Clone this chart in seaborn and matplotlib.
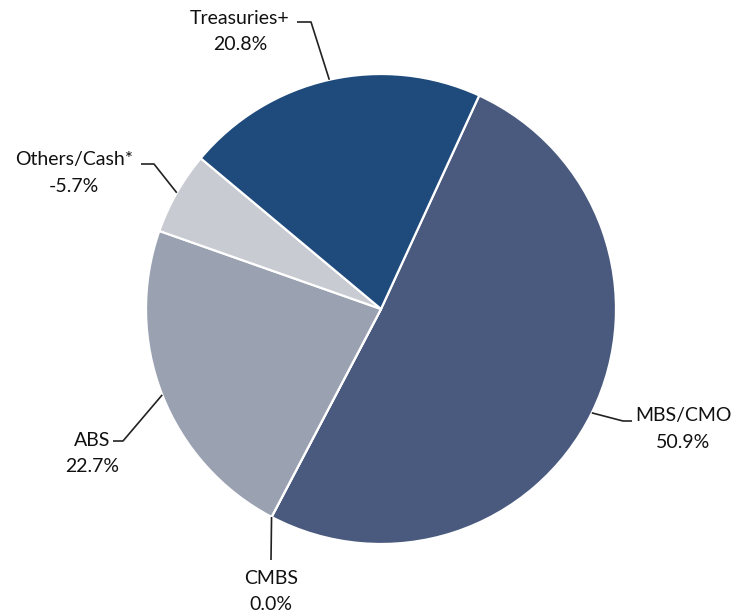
import numpy as np
import matplotlib
matplotlib.use("Agg")
import matplotlib.pyplot as plt
import seaborn as sns

# Sector allocation (percent of portfolio)
sectors = ["MBS/CMO", "CMBS", "ABS", "Others/Cash*", "Treasuries+"]
weights = [50.9, 0.0, 22.7, -5.7, 20.8]
colors = ["#4a5a7e", "#3b4f77", "#9aa1b1", "#c8cbd2", "#1f4a7c"]

# Label placement: text centre (px), elbow and end of the leader line (px)
text_pos = {
    "MBS/CMO": (683, 416),
    "CMBS": (271, 578),
    "ABS": (92, 440),
    "Others/Cash*": (74, 160),
    "Treasuries+": (240, 18),
}
leader_pts = {
    "MBS/CMO": [(623, 421), (632, 421)],
    "CMBS": [(271, 560)],
    "ABS": [(123, 441), (113, 441)],
    "Others/Cash*": [(154, 164), (141, 164)],
    "Treasuries+": [(311, 22), (297, 22)],
}

sns.set_theme(style="white")
plt.rcParams["font.family"] = ["Lato", "DejaVu Sans"]

W, H = 736, 614
fig = plt.figure(figsize=(W / 100, H / 100), dpi=100)
ax = fig.add_axes([0, 0, 1, 1])

cx, cy, r = 381, 309, 235
sizes = [abs(v) for v in weights]
# y axis is inverted, so counter-clockwise in data space reads clockwise on screen
wedges, _ = ax.pie(
    sizes, colors=colors, startangle=-65.3, counterclock=True,
    center=(cx, cy), radius=r, frame=True,
    wedgeprops=dict(edgecolor="white", linewidth=1.6),
)
ax.set_xlim(0, W)
ax.set_ylim(H, 0)
ax.set_aspect("equal")
ax.axis("off")

for w, name, val in zip(wedges, sectors, weights):
    mid = np.deg2rad((w.theta1 + w.theta2) / 2)
    ax_pt = (cx + r * np.cos(mid), cy + r * np.sin(mid))
    pts = [ax_pt] + leader_pts[name]
    ax.plot([p[0] for p in pts], [p[1] for p in pts], color="#222222", lw=1.2,
            solid_capstyle="butt")
    tx, ty = text_pos[name]
    ax.text(tx, ty, name, ha="center", va="center", fontsize=14, color="#111111")
    ax.text(tx, ty + 26, f"{val:.1f}%", ha="center", va="center", fontsize=14,
            color="#111111")

fig.savefig("out.png", dpi=100)
